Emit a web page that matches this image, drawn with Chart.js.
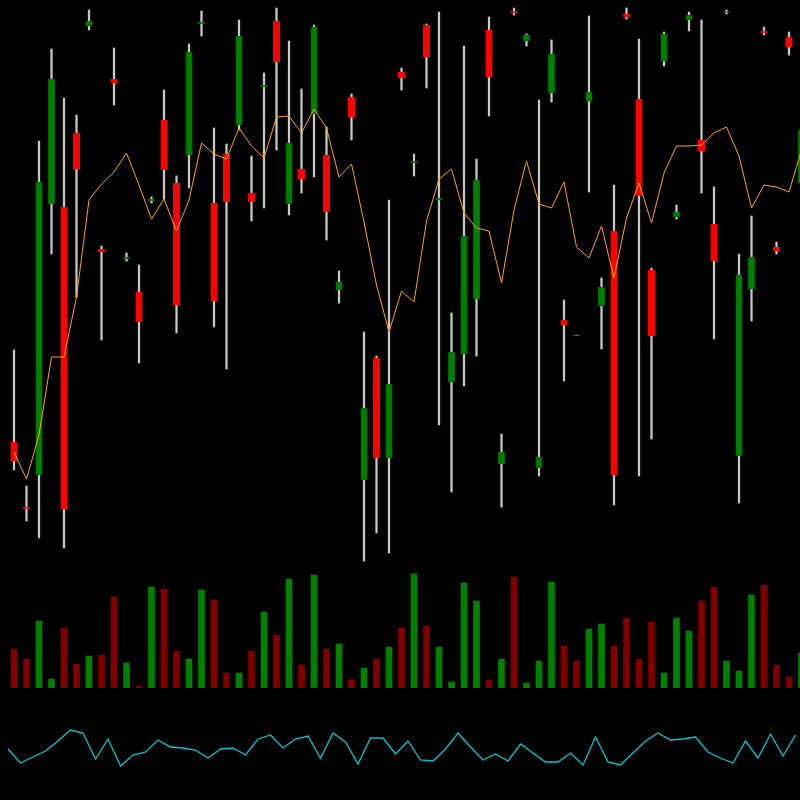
<!DOCTYPE html>
<html>
<head>
<meta charset="utf-8">
<script src="https://cdn.jsdelivr.net/npm/chart.js@4/dist/chart.umd.min.js"></script>
<style>
    html, body { margin: 0; padding: 0; background: #000; overflow: hidden; }
    #wrap { position: relative; width: 800px; height: 800px; background: #000; }
    canvas { position: absolute; left: 0; }
    #priceChart { top: 0; }
    #volChart { top: 560px; }
    #oscChart { top: 700px; }
</style>
</head>
<body>
<div id="wrap">
    <canvas id="priceChart" width="800" height="570"></canvas>
    <canvas id="volChart" width="800" height="128"></canvas>
    <canvas id="oscChart" width="800" height="100"></canvas>
</div>
<script>
// candles (price units, no axis shown)
let openP  = [158, 93, 125, 396, 393, 467, 574, 351, 521, 341, 308, 399, 480, 417, 445, 576,
              397, 446, 475, 407, 513, 579, 396, 431, 486, 445, 310, 503, 120, 242, 142, 528,
              437, 575, 400, 218, 246, 301, 570, 136, 589, 559, 132, 507, 280, 265, 499, 294,
              369, 586, 501, 330, 539, 383, 580, 460, 376, 587.5, 144, 311, 569, 353, 563, 417];
let highP  = [250, 114, 459, 551, 502, 485, 590, 354, 552, 347, 335, 403, 510, 424, 556, 589,
              472, 456, 580, 444, 527, 592, 559, 511, 575, 473, 329, 506, 268, 244, 400, 532,
              446, 576, 588, 287, 554, 441, 583, 166, 592, 566, 500, 560, 300, 265, 584, 322,
              415, 592, 561, 332, 568, 395, 588, 580, 413, 590, 346, 384, 573, 358, 568, 475];
let lowP   = [130, 79, 62, 346, 52, 303, 570, 260, 495, 339, 237, 397, 401, 267, 412, 564,
              273, 231, 470, 379, 392, 450, 385, 407, 423, 360, 297, 460, 39, 67, 47, 510,
              424, 512, 175, 108, 214, 244, 484, 93, 585, 554, 124, 498, 219, 264.5, 408, 251,
              95, 581, 124, 161, 534, 381, 569, 407, 261, 586, 97, 279, 565, 346, 545, 410];
let closeP = [139, 91, 418, 521, 91, 431, 579, 348, 517, 343, 278, 401, 430, 295, 548, 578,
              299, 398, 564, 398, 515, 538, 457, 421, 573, 388, 318, 483, 192, 142, 216, 522,
              439, 543, 402, 248, 364, 420, 523, 148, 587, 565, 143, 546, 275, 264.5, 508, 313,
              125, 583, 404, 264, 566, 388, 585, 449, 339, 588, 325, 343, 567, 349, 553, 470];
let maLine = [148, 121, 165, 243, 243, 303, 400, 416, 428, 447, 415, 381, 401, 369, 400, 457,
              446, 441, 472, 454, 442, 483, 484, 467, 491, 472, 423, 436, 378, 315, 268, 309,
              298, 379, 421, 431, 387, 372, 369, 317, 390, 439, 396, 392, 418, 353, 342, 374,
              322, 382, 417, 377, 427, 454, 454, 455, 467, 473, 444, 392, 415, 413, 408, 450];
let volume = [39, 29, 67, 9, 60, 24, 32, 33, 91, 25, 2, 101, 99, 37, 29, 98,
              88, 15, 15, 37, 76, 53, 109, 23, 113, 39, 44, 8, 20, 29, 41, 60,
              114, 62, 41, 6, 105, 87, 8, 29, 111, 5, 27, 106, 42, 27, 59, 64,
              42, 70, 29, 66, 15, 70, 57, 87, 101, 27, 17, 93, 103, 23, 11, 35];
let oscLine = [51, 37, 43, 49, 59, 70, 67, 41, 61, 34, 45, 48, 60, 53, 52, 50,
               42, 51, 52, 45, 61, 65, 52, 61, 64, 42, 67, 58, 36, 62, 62, 46,
               59, 40, 39, 51, 67, 53, 40, 46, 39, 56, 47, 38, 38, 47, 35, 63,
               38, 35, 47, 59, 67, 60, 61, 63, 48, 42, 37, 59, 42, 66, 44, 65];

let upColor = '#008000';
let downColor = '#ff0000';
let volUp = '#008000';
let volDown = '#800000';

let isUp = openP.map((o, i) => closeP[i] >= o);

function noFrills(xMin, xMax, yMin, yMax) {
    return {
        responsive: false,
        animation: false,
        devicePixelRatio: 1,
        layout: { padding: 0 },
        plugins: { legend: { display: false }, tooltip: { enabled: false } },
        scales: {
            x: { type: 'linear', min: xMin, max: xMax, offset: false, display: false },
            y: { type: 'linear', min: yMin, max: yMax, display: false }
        }
    };
}

function drawPrice() {
    let wicks = [], bodies = [], ma = [];
    openP.map((o, i) => {
        wicks.push({ x: i, y: [lowP[i], highP[i]] });
        let c = closeP[i];
        // keep tiny dojis visible
        if (Math.abs(c - o) < 1) c = isUp[i] ? o + 1 : o - 1;
        bodies.push({ x: i, y: [o, c] });
        ma.push({ x: i, y: maLine[i] });
    });

    new Chart(document.getElementById('priceChart'), {
        type: 'bar',
        data: {
            datasets: [{
                type: 'line',
                data: ma,
                borderColor: '#ffa500',
                borderWidth: 1,
                pointRadius: 0,
                tension: 0,
                order: 0
            }, {
                data: bodies,
                backgroundColor: isUp.map(u => u ? upColor : downColor),
                borderColor: isUp.map(u => u ? '#006400' : downColor),
                borderWidth: 1,
                borderSkipped: false,
                barThickness: 6.5,
                grouped: false,
                order: 1
            }, {
                data: wicks,
                backgroundColor: '#c8c8c8',
                barThickness: 1.6,
                grouped: false,
                order: 2
            }]
        },
        options: noFrills(-1.12, 62.88, 30, 600)
    });
}

function drawVolume() {
    new Chart(document.getElementById('volChart'), {
        type: 'bar',
        data: {
            datasets: [{
                data: volume.map((v, i) => ({ x: i, y: v })),
                backgroundColor: isUp.map(u => u ? volUp : volDown),
                barThickness: 6,
                grouped: false
            }]
        },
        options: noFrills(-1.12, 62.88, 0, 128)
    });
}

function drawOsc() {
    new Chart(document.getElementById('oscChart'), {
        type: 'line',
        data: {
            datasets: [{
                data: oscLine.map((v, i) => ({ x: i, y: v })),
                borderColor: '#00c8d2',
                borderWidth: 1.3,
                pointRadius: 0,
                tension: 0
            }]
        },
        options: noFrills(-0.64, 63.36, 0, 100)
    });
}

drawPrice();
drawVolume();
drawOsc();
</script>
</body>
</html>
